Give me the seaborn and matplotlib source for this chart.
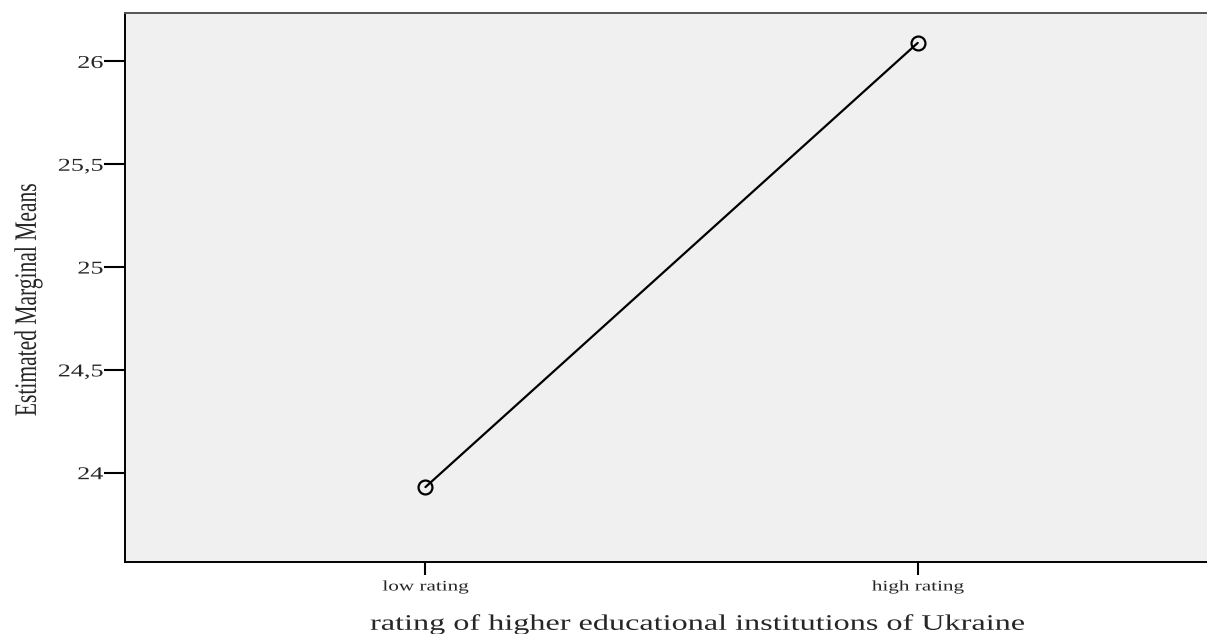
import matplotlib
matplotlib.use("Agg")
import matplotlib.pyplot as plt
import seaborn as sns
from matplotlib.patheffects import AbstractPathEffect
from matplotlib.transforms import Affine2D

# data
categories = ["low rating", "high rating"]
means = [23.93, 26.09]
y_ticks = [24, 24.5, 25, 25.5, 26]
y_tick_labels = ["24", "24,5", "25", "25,5", "26"]
x_title = "rating of higher educational institutions of Ukraine"
y_title = "Estimated Marginal Means"


class HStretch(AbstractPathEffect):
    """Widen glyphs horizontally (the reference export is stretched)."""

    def __init__(self, sx=1.45, anchor="center"):
        super().__init__()
        self.sx = sx
        self.anchor = anchor

    def draw_path(self, renderer, gc, tpath, affine, rgbFace=None):
        ext = affine.transform_path(tpath).get_extents()
        if self.anchor == "right":
            x0 = ext.x1
        elif self.anchor == "left":
            x0 = ext.x0
        else:
            x0 = (ext.x0 + ext.x1) / 2
        st = Affine2D().translate(-x0, 0).scale(self.sx, 1).translate(x0, 0)
        renderer.draw_path(gc, tpath, affine + st, rgbFace)


sns.set_theme(style="ticks")
plt.rcParams["font.family"] = ["Liberation Serif", "DejaVu Serif"]

fig = plt.figure(figsize=(12.07, 6.34), dpi=100)
ax = fig.add_axes([0.1033, 0.114, 0.9062, 0.865])
ax.set_facecolor("#f0f0f0")

sns.lineplot(x=categories, y=means, ax=ax, color="black", linewidth=1.6,
             marker="o", markersize=10, markerfacecolor="none",
             markeredgecolor="black", markeredgewidth=1.6)

ax.set_xlim(-0.611, 1.611)
ax.set_ylim(23.567, 26.234)
ax.set_xticks(range(len(categories)))
ax.set_xticklabels(categories, fontsize=10.5)
ax.set_yticks(y_ticks)
ax.set_yticklabels(y_tick_labels, fontsize=13)

ax.tick_params(axis="x", length=9.5, width=1.5, pad=4, color="black")
ax.tick_params(axis="y", length=15, width=1.5, pad=0.5, color="black")

ax.set_xlabel(x_title, fontsize=16)
ax.set_ylabel(y_title, fontsize=15.5)
ax.xaxis.set_label_coords(0.524, -0.097)
ax.yaxis.set_label_coords(-0.0747, 0.477)

for side in ["left", "bottom"]:
    ax.spines[side].set_color("black")
    ax.spines[side].set_linewidth(1.4)
ax.spines["top"].set_color("#555555")
ax.spines["top"].set_linewidth(1.4)
ax.spines["right"].set_visible(False)

for lab in ax.get_xticklabels():
    lab.set_path_effects([HStretch(1.45, "center")])
for lab in ax.get_yticklabels():
    lab.set_path_effects([HStretch(1.45, "right")])
ax.xaxis.label.set_path_effects([HStretch(1.45, "center")])
ax.yaxis.label.set_path_effects([HStretch(1.45, "right")])

fig.savefig("out.png", dpi=100)
